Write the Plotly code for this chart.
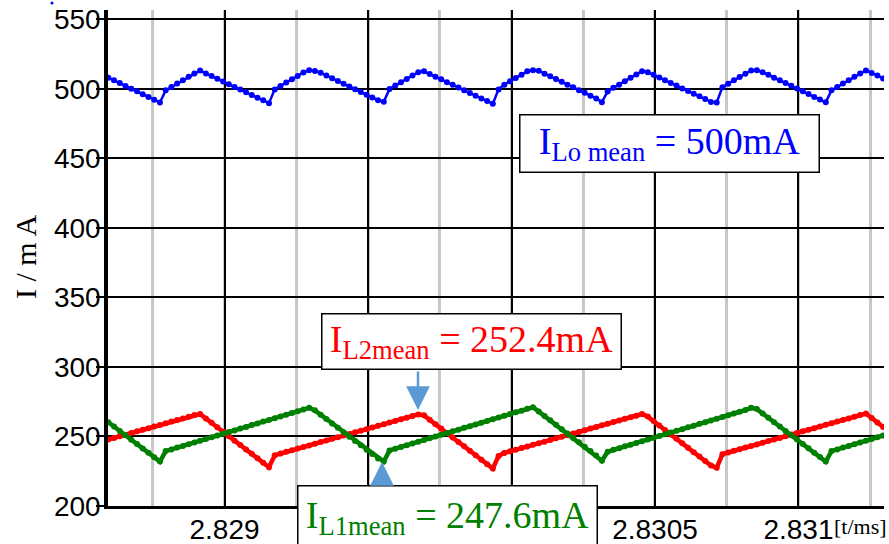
import numpy as np
import plotly.graph_objects as go

# ---- data ----
t_start = 2.828595      # ms, first sample
t_step = 0.00002        # ms, sample spacing

i_lo = [508.1,506.2,504.2,502.2,500.2,498.3,496.2,494.3,492.3,490.3,
        499.0,501.4,503.9,506.2,508.7,511.1,513.2,511.2,509.3,507.3,
        505.4,503.4,501.4,499.6,497.6,495.7,493.7,491.8,489.8,499.7,
        502.2,504.6,507.0,509.4,511.9,513.4,513.0,511.7,509.6,507.7,
        505.7,503.8,501.7,499.8,497.9,495.8,493.9,491.9,490.8,500.0,
        502.4,504.9,507.2,509.7,512.1,512.7,510.7,508.8,506.9,504.9,
        503.0,501.0,499.1,497.1,495.2,493.2,491.3,489.4,499.7,503.1,
        505.5,507.9,510.3,512.7,513.5,513.1,511.0,509.1,507.1,505.1,
        503.1,501.2,499.1,497.2,495.2,493.2,490.5,498.2,500.8,503.1,
        505.6,508.0,510.4,512.8,512.1,510.2,508.2,506.3,504.3,502.4,
        500.4,498.5,496.5,494.7,492.7,490.7,490.3,501.3,503.8,506.2,
        508.6,511.0,513.3,513.4,512.1,510.2,508.1,506.2,504.2,502.3,
        500.3,498.3,496.4,494.3,492.4,490.4,499.0,501.4,503.9,506.2,
        508.7,511.1,513.3,511.5,509.6,507.6]

i_l2 = [247.8,249.0,250.2,251.3,252.5,253.7,254.8,256.0,257.2,258.3,
        259.5,260.7,261.9,263.0,264.2,265.4,266.2,263.0,259.8,256.6,
        253.4,250.2,247.0,243.9,240.7,237.5,234.3,231.1,227.9,236.5,
        237.8,239.0,240.1,241.3,242.5,243.6,244.8,246.0,247.1,248.3,
        249.5,250.7,251.8,253.0,254.2,255.3,256.5,257.7,258.8,260.0,
        261.2,262.4,263.5,264.7,265.9,265.2,262.0,258.8,255.7,252.5,
        249.3,246.1,242.9,239.7,236.5,233.3,230.1,227.0,236.0,238.2,
        239.3,240.5,241.7,242.8,244.0,245.2,246.3,247.5,248.7,249.8,
        251.0,252.2,253.3,254.5,255.7,256.8,258.0,259.2,260.4,261.5,
        262.7,263.9,265.0,266.2,264.3,261.1,257.9,254.7,251.5,248.3,
        245.1,241.9,238.7,235.6,232.4,229.2,227.5,237.3,238.5,239.7,
        240.8,242.0,243.2,244.3,245.5,246.7,247.8,249.0,250.2,251.4,
        252.5,253.7,254.9,256.0,257.2,258.4,259.5,260.7,261.9,263.0,
        264.2,265.4,266.5,263.3,260.1,256.9]

i_l1 = [260.3,257.2,254.0,250.9,247.7,244.6,241.4,238.3,235.1,232.0,
        239.5,240.7,242.0,243.2,244.5,245.7,247.0,248.2,249.5,250.7,
        252.0,253.2,254.4,255.7,256.9,258.2,259.4,260.7,261.9,263.2,
        264.4,265.6,266.9,268.1,269.4,270.6,268.8,265.7,262.5,259.4,
        256.2,253.1,249.9,246.8,243.7,240.5,237.4,234.2,232.0,240.0,
        241.2,242.5,243.7,245.0,246.2,247.5,248.7,250.0,251.2,252.4,
        253.7,254.9,256.2,257.4,258.7,259.9,261.2,262.4,263.7,264.9,
        266.2,267.4,268.6,269.9,271.0,267.9,264.7,261.6,258.4,255.3,
        252.1,249.0,245.8,242.7,239.5,236.4,232.5,239.0,240.4,241.6,
        242.9,244.1,245.4,246.6,247.8,249.1,250.3,251.6,252.8,254.1,
        255.3,256.6,257.8,259.1,260.3,261.5,262.8,264.0,265.3,266.5,
        267.8,269.0,270.6,269.7,266.6,263.5,260.3,257.2,254.0,250.9,
        247.8,244.6,241.5,238.3,235.2,232.0,239.5,240.7,242.0,243.2,
        244.5,245.7,247.0,248.2,249.5,250.7]

x_tick_vals = [2.829, 2.8295, 2.830, 2.8305, 2.831]
x_tick_text = ["2.829", "", "", "2.8305", "2.831"]
y_tick_vals = [200, 250, 300, 350, 400, 450, 500, 550]

label_lo = "I<sub>Lo mean</sub> = 500mA"
label_l2 = "I<sub>L2mean</sub> = 252.4mA"
label_l1 = "I<sub>L1mean</sub> = 247.6mA"

t = t_start + t_step * np.arange(len(i_lo))

fig = go.Figure()
fig.add_trace(go.Scatter(x=t, y=i_lo, mode="lines+markers",
                         line=dict(color="#0000FF", width=2.5),
                         marker=dict(color="#0000FF", size=6),
                         showlegend=False))
fig.add_trace(go.Scatter(x=t, y=i_l2, mode="lines+markers",
                         line=dict(color="#FF0000", width=4.5),
                         marker=dict(color="#FF0000", size=6),
                         showlegend=False))
fig.add_trace(go.Scatter(x=t, y=i_l1, mode="lines+markers",
                         line=dict(color="#008000", width=4.5),
                         marker=dict(color="#008000", size=6),
                         showlegend=False))

W, H = 889, 544
ml, mr, mt, mb = 108, 5, 10, 38
pw, ph = W - ml - mr, H - mt - mb

def px(xp):
    return (xp - ml) / pw

def py(yp):
    return (H - mb - yp) / ph

serif = "Liberation Serif, Times New Roman, serif"
sans = "Liberation Sans, Arial, sans-serif"

fig.update_layout(
    template="none",
    width=W, height=H,
    margin=dict(l=ml, r=mr, t=mt, b=mb, pad=0),
    plot_bgcolor="white", paper_bgcolor="white",
    xaxis=dict(range=[2.828594, 2.831298], tickmode="array",
               tickvals=x_tick_vals, ticktext=x_tick_text, automargin=False,
               showgrid=True, gridcolor="black", gridwidth=2,
               minor=dict(tickmode="linear", tick0=2.82875, dtick=0.00025,
                          showgrid=True, gridcolor="#c8c8c8", gridwidth=2.5),
               showline=True, linecolor="black", linewidth=2.5,
               ticks="", zeroline=False, ticklabelstandoff=-3,
               tickfont=dict(family=sans, size=28, color="black")),
    yaxis=dict(range=[200, 556.8], tickmode="array", tickvals=y_tick_vals,
               automargin=False,
               showgrid=True, gridcolor="black", gridwidth=2,
               showline=True, linecolor="black", linewidth=3.5,
               ticks="outside", ticklen=8, tickwidth=2, tickcolor="black",
               zeroline=False, ticklabelstandoff=-10,
               tickfont=dict(family=sans, size=28, color="black")),
)

anns = []
anns.append(dict(xref="paper", yref="paper", x=px(669), y=py(143),
                 text=label_lo, showarrow=False, width=298, height=56,
                 xanchor="center", yanchor="middle",
                 font=dict(family=serif, size=38, color="#0000FF"),
                 bgcolor="white", bordercolor="black", borderwidth=1.5, borderpad=0))
anns.append(dict(xref="paper", yref="paper", x=px(471.5), y=py(341.7),
                 text=label_l2, showarrow=False, width=298, height=54,
                 xanchor="center", yanchor="middle",
                 font=dict(family=serif, size=38, color="#FF0000"),
                 bgcolor="white", bordercolor="black", borderwidth=1.5, borderpad=0))
anns.append(dict(xref="paper", yref="paper", x=px(447.5), y=py(517),
                 text=label_l1, showarrow=False, width=298, height=62,
                 xanchor="center", yanchor="middle",
                 font=dict(family=serif, size=38, color="#008000"),
                 bgcolor="white", bordercolor="black", borderwidth=1.5, borderpad=0))
# arrows
anns.append(dict(xref="paper", yref="paper", x=px(418), y=py(410), text="",
                 showarrow=True, ax=0, ay=-40, arrowhead=2, arrowsize=1.9,
                 arrowwidth=2.5, arrowcolor="#5B9BD5", standoff=0))
anns.append(dict(xref="paper", yref="paper", x=px(382), y=py(462), text="",
                 showarrow=True, ax=0, ay=23, arrowhead=2, arrowsize=1.9,
                 arrowwidth=2.5, arrowcolor="#5B9BD5", standoff=0))
# axis titles
anns.append(dict(xref="paper", yref="paper", x=px(25), y=py(257),
                 text="I / m A", showarrow=False, textangle=-90,
                 xanchor="center", yanchor="middle",
                 font=dict(family=serif, size=30, color="black")))
anns.append(dict(xref="paper", yref="paper", x=px(832), y=py(526),
                 text="[t/ms]", showarrow=False,
                 xanchor="left", yanchor="middle",
                 font=dict(family=serif, size=22, color="black")))
fig.update_layout(annotations=anns)

fig.add_shape(type="circle", xref="paper", yref="paper",
              x0=px(50.5), x1=px(53.5), y0=py(4.5), y1=py(1.5),
              fillcolor="#0000FF", line=dict(width=0))

fig.write_html("out.html")
